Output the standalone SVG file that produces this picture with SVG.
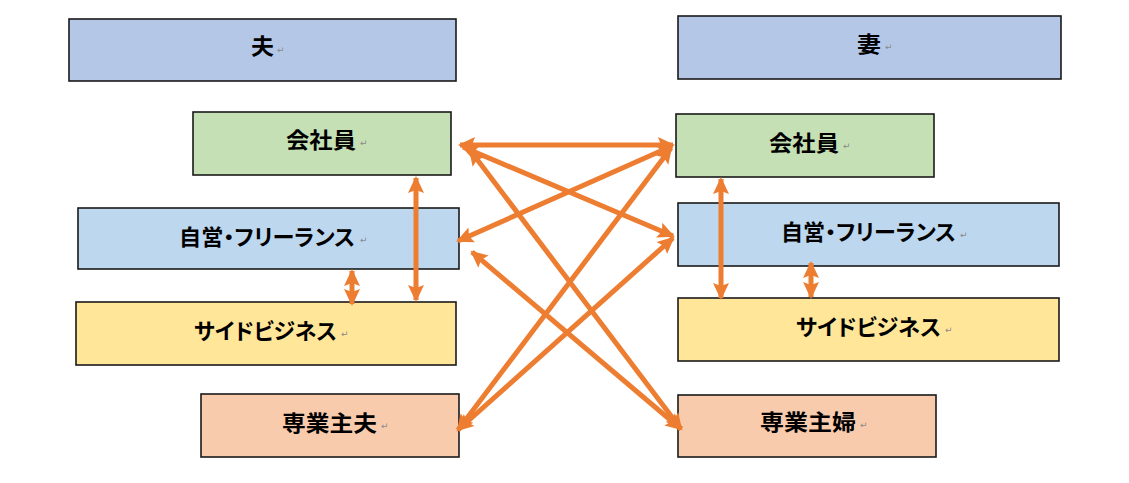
<svg xmlns="http://www.w3.org/2000/svg" width="1129" height="483" viewBox="0 0 1129 483">
<defs>
<style>
.box{stroke:#1a1a1a;stroke-width:1.6}
.t{font-family:"Noto Sans CJK JP","Noto Sans CJK SC",sans-serif;font-weight:bold;font-size:22px;fill:#000}
.k{font-feature-settings:"palt" 1}
.r{font-family:"DejaVu Sans",sans-serif;font-size:9px;fill:#8a8a8a}
.c line{stroke:#ED7D31;stroke-width:5;marker-start:url(#ah);marker-end:url(#ah)}
</style>
<marker id="ah" markerUnits="userSpaceOnUse" markerWidth="18" markerHeight="17" refX="15" refY="8.5" orient="auto-start-reverse" viewBox="0 0 18 17">
<path d="M0,0.5 L17,8.5 L0,16.5 L3,8.5 z" fill="#ED7D31"/>
</marker>
</defs>
<rect width="1129" height="483" fill="#fff"/>

<g id="husband"><rect class="box" x="69" y="19" width="387" height="62" fill="#B4C7E7"/><text class="t" x="251" y="54" textLength="23" lengthAdjust="spacingAndGlyphs">夫</text><text class="r" x="277" y="53">↵</text></g>
<g id="wife"><rect class="box" x="678" y="16" width="383" height="63" fill="#B4C7E7"/><text class="t" x="857" y="52" textLength="24" lengthAdjust="spacingAndGlyphs">妻</text><text class="r" x="885" y="50">↵</text></g>

<g id="h-employee"><rect class="box" x="193" y="112" width="258" height="63" fill="#C5E0B4"/><text class="t" x="286" y="148" textLength="70" lengthAdjust="spacingAndGlyphs">会社員</text><text class="r" x="360" y="146">↵</text></g>
<g id="w-employee"><rect class="box" x="676" y="114" width="258" height="63" fill="#C5E0B4"/><text class="t" x="769" y="151" textLength="70" lengthAdjust="spacingAndGlyphs">会社員</text><text class="r" x="843" y="149">↵</text></g>

<g id="h-freelance"><rect class="box" x="78" y="208" width="381" height="61" fill="#BDD7EE"/><text class="t k" x="179" y="245" textLength="176" lengthAdjust="spacingAndGlyphs">自営・フリーランス</text><text class="r" x="360" y="243">↵</text></g>
<g id="w-freelance"><rect class="box" x="678" y="203" width="381" height="63" fill="#BDD7EE"/><text class="t k" x="781" y="240" textLength="175" lengthAdjust="spacingAndGlyphs">自営・フリーランス</text><text class="r" x="960" y="238">↵</text></g>

<g id="h-side"><rect class="box" x="76" y="302" width="380" height="63" fill="#FFE699"/><text class="t k" x="194" y="339" textLength="143" lengthAdjust="spacingAndGlyphs">サイドビジネス</text><text class="r" x="341" y="337">↵</text></g>
<g id="w-side"><rect class="box" x="678" y="298" width="381" height="63" fill="#FFE699"/><text class="t k" x="796" y="335" textLength="145" lengthAdjust="spacingAndGlyphs">サイドビジネス</text><text class="r" x="945" y="333">↵</text></g>

<g id="h-home"><rect class="box" x="201" y="394" width="258" height="63" fill="#F8CBAD"/><text class="t" x="282" y="431" textLength="95" lengthAdjust="spacingAndGlyphs">専業主夫</text><text class="r" x="381" y="429">↵</text></g>
<g id="w-home"><rect class="box" x="678" y="395" width="258" height="62" fill="#F8CBAD"/><text class="t" x="760" y="430" textLength="96" lengthAdjust="spacingAndGlyphs">専業主婦</text><text class="r" x="860" y="428">↵</text></g>

<g id="connectors" class="c">
<line x1="416" y1="178" x2="416" y2="300"/>
<line x1="352" y1="271" x2="352" y2="304"/>
<line x1="721" y1="179" x2="721" y2="298"/>
<line x1="811" y1="263" x2="811" y2="297"/>
<line x1="460" y1="145" x2="673" y2="145"/>
<line x1="463" y1="147" x2="673" y2="236"/>
<line x1="672" y1="146" x2="458" y2="241"/>
<line x1="671" y1="148" x2="458" y2="430"/>
<line x1="470" y1="150" x2="681" y2="429"/>
<line x1="472" y1="252" x2="681" y2="429"/>
<line x1="458" y1="430" x2="673" y2="238"/>
</g>
</svg>
